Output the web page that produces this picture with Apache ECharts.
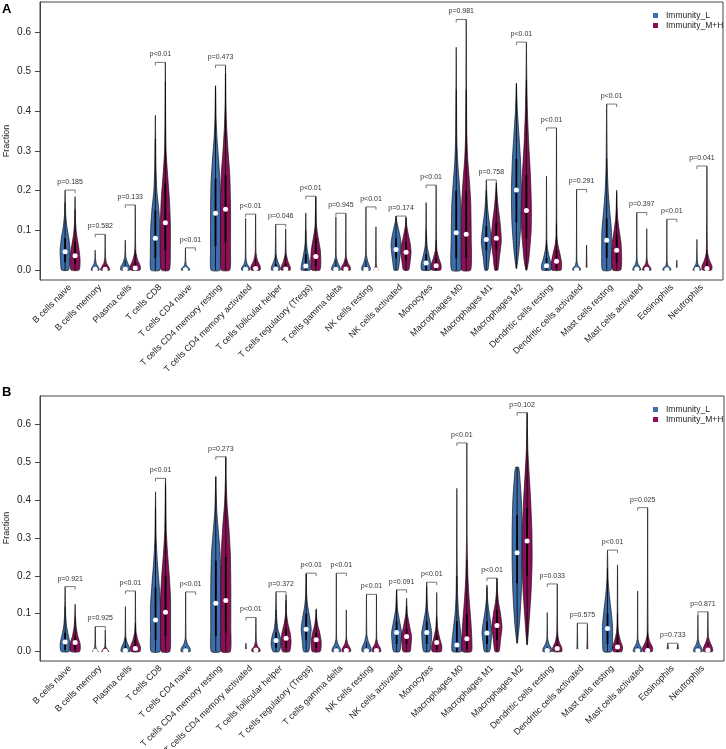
<!DOCTYPE html>
<html><head><meta charset="utf-8">
<script src="https://cdn.jsdelivr.net/npm/echarts@6/dist/echarts.min.js"></script>
<style>html,body{margin:0;padding:0;background:#fff}#c{width:726px;height:749px}</style>
</head><body><div id="c"></div>
<script>
const categories = ['B cells naive','B cells memory','Plasma cells','T cells CD8','T cells CD4 naive','T cells CD4 memory resting','T cells CD4 memory activated','T cells follicular helper','T cells regulatory (Tregs)','T cells gamma delta','NK cells resting','NK cells activated','Monocytes','Macrophages M0','Macrophages M1','Macrophages M2','Dendritic cells resting','Dendritic cells activated','Mast cells resting','Mast cells activated','Eosinophils','Neutrophils'];
const groups = ['Immunity_L','Immunity_M+H'];
const yTicks = [0,0.1,0.2,0.3,0.4,0.5,0.6];
const xTicks = [0,1,2,3,4,5,6,7,8,9,10,11,12,13,14,15,16,17,18,19,20,21];
const yTitle = 'Fraction';

const pA = ['p=0.185','p=0.582','p=0.133','p<0.01','p<0.01','p=0.473','p<0.01','p=0.046','p<0.01','p=0.945','p<0.01','p=0.174','p<0.01','p=0.981','p=0.758','p<0.01','p<0.01','p=0.291','p<0.01','p=0.397','p<0.01','p=0.041'];
const pB = ['p=0.921','p=0.925','p<0.01','p<0.01','p<0.01','p=0.273','p<0.01','p=0.372','p<0.01','p<0.01','p<0.01','p=0.091','p<0.01','p<0.01','p<0.01','p=0.102','p=0.033','p=0.575','p<0.01','p=0.025','p=0.733','p=0.871'];

// violin profiles: [value, relative half-width]
const violinA_L = [
 [[0,0.7],[0.02,0.9],[0.05,1],[0.08,0.75],[0.11,0.35],[0.14,0.12],[0.2015,0]],
 [[0,0.8],[0.006,0.7],[0.015,0.25],[0.03,0.06],[0.05,0]],
 [[0,0.9],[0.008,0.9],[0.02,0.4],[0.035,0.1],[0.0756,0]],
 [[0,0.9],[0.04,1],[0.1,0.95],[0.15,0.7],[0.2,0.3],[0.26,0.12],[0.39,0]],
 [[0,0.85],[0.005,0.7],[0.012,0.2],[0.025,0.05],[0.056,0]],
 [[0,0.9],[0.05,1],[0.15,1],[0.22,0.9],[0.28,0.6],[0.33,0.3],[0.38,0.12],[0.464,0]],
 [[0,0.8],[0.006,0.8],[0.015,0.3],[0.03,0.08],[0.13,0]],
 [[0,0.85],[0.008,0.85],[0.02,0.45],[0.035,0.12],[0.115,0]],
 [[0,0.9],[0.01,0.9],[0.03,0.6],[0.05,0.3],[0.07,0.12],[0.144,0]],
 [[0,0.85],[0.008,0.8],[0.02,0.35],[0.035,0.08],[0.134,0]],
 [[0,0.85],[0.008,0.8],[0.02,0.4],[0.04,0.08],[0.159,0]],
 [[0,0.4],[0.02,0.65],[0.045,0.9],[0.065,1],[0.085,0.8],[0.105,0.45],[0.122,0.15],[0.136,0]],
 [[0,0.9],[0.015,1],[0.035,0.6],[0.06,0.2],[0.09,0.08],[0.17,0]],
 [[0,0.95],[0.08,1],[0.16,0.9],[0.22,0.6],[0.27,0.3],[0.33,0.12],[0.45,0.05],[0.561,0]],
 [[0,0.3],[0.03,0.6],[0.07,1],[0.11,0.7],[0.15,0.3],[0.19,0.1],[0.227,0]],
 [[0.004,0.05],[0.05,0.5],[0.12,0.9],[0.2,1],[0.28,0.8],[0.34,0.5],[0.4,0.2],[0.44,0.08],[0.47,0]],
 [[0,0.9],[0.012,1],[0.03,0.6],[0.05,0.25],[0.07,0.08],[0.237,0]],
 [[0,0.8],[0.005,0.7],[0.012,0.25],[0.025,0.06],[0.203,0]],
 [[0,0.85],[0.04,1],[0.1,0.95],[0.15,0.6],[0.2,0.3],[0.26,0.12],[0.418,0]],
 [[0,0.8],[0.006,0.7],[0.015,0.25],[0.03,0.06],[0.145,0]],
 [[0,0.8],[0.005,0.7],[0.012,0.2],[0.025,0.05],[0.128,0]],
 [[0,0.8],[0.006,0.6],[0.015,0.2],[0.03,0.06],[0.077,0]]
];
const violinA_H = [
 [[0,0.8],[0.025,1],[0.055,0.75],[0.09,0.3],[0.12,0.1],[0.185,0]],
 [[0,0.9],[0.007,0.75],[0.018,0.25],[0.035,0.06],[0.09,0]],
 [[0,0.95],[0.01,1],[0.025,0.5],[0.045,0.12],[0.08,0.05],[0.164,0]],
 [[0,0.8],[0.05,1],[0.12,1],[0.18,0.8],[0.24,0.45],[0.3,0.15],[0.38,0.06],[0.523,0]],
 [[0,0.2],[0.004,0]],
 [[0,0.85],[0.05,1],[0.16,1],[0.24,0.85],[0.3,0.5],[0.36,0.22],[0.42,0.08],[0.516,0]],
 [[0,0.9],[0.01,0.9],[0.025,0.35],[0.045,0.08],[0.141,0]],
 [[0,0.9],[0.008,0.9],[0.02,0.5],[0.04,0.12],[0.104,0]],
 [[0,0.8],[0.02,1],[0.05,0.9],[0.08,0.5],[0.11,0.15],[0.186,0]],
 [[0,0.9],[0.008,0.85],[0.02,0.35],[0.035,0.08],[0.143,0]],
 [[0,0.5],[0.004,0.3],[0.012,0.08],[0.109,0]],
 [[0,0.5],[0.02,0.8],[0.045,1],[0.065,0.85],[0.09,0.45],[0.11,0.15],[0.133,0]],
 [[0,0.9],[0.012,1],[0.03,0.55],[0.05,0.15],[0.08,0.06],[0.214,0]],
 [[0,0.9],[0.08,1],[0.17,0.9],[0.23,0.6],[0.28,0.3],[0.34,0.12],[0.48,0.05],[0.631,0]],
 [[0,0.3],[0.03,0.6],[0.075,1],[0.12,0.75],[0.16,0.35],[0.2,0.1],[0.22,0]],
 [[0,0.1],[0.03,0.5],[0.1,0.95],[0.16,1],[0.24,0.8],[0.32,0.45],[0.4,0.2],[0.48,0.08],[0.574,0]],
 [[0,0.9],[0.02,1],[0.04,0.7],[0.065,0.25],[0.09,0.08],[0.358,0]],
 [[0,0.3],[0.005,0.1],[0.063,0]],
 [[0,0.8],[0.03,1],[0.07,0.85],[0.1,0.5],[0.13,0.2],[0.16,0.08],[0.2015,0]],
 [[0,0.85],[0.006,0.75],[0.015,0.25],[0.03,0.06],[0.104,0]],
 [[0,0.2],[0.004,0.08],[0.025,0]],
 [[0,0.9],[0.01,1],[0.025,0.5],[0.045,0.12],[0.262,0]]
];
const violinB_L = [
 [[0,0.8],[0.02,1],[0.045,0.6],[0.07,0.25],[0.1,0.1],[0.1715,0]],
 [[0,0.6],[0.004,0.4],[0.012,0.1],[0.066,0]],
 [[0,0.85],[0.01,0.8],[0.025,0.3],[0.04,0.08],[0.119,0]],
 [[0,0.9],[0.05,1],[0.12,1],[0.18,0.7],[0.24,0.35],[0.3,0.12],[0.422,0]],
 [[0,0.9],[0.008,0.9],[0.02,0.35],[0.035,0.08],[0.1575,0]],
 [[0,0.9],[0.06,1],[0.18,1],[0.26,0.85],[0.32,0.5],[0.37,0.2],[0.42,0.08],[0.462,0]],
 [[0,0.1],[0.022,0]],
 [[0,0.6],[0.02,1],[0.04,0.8],[0.06,0.35],[0.09,0.12],[0.158,0]],
 [[0,0.5],[0.03,0.8],[0.06,1],[0.09,0.7],[0.12,0.3],[0.15,0.1],[0.207,0]],
 [[0,0.85],[0.008,0.8],[0.02,0.3],[0.035,0.06],[0.207,0]],
 [[0,0.85],[0.01,0.9],[0.025,0.4],[0.045,0.08],[0.151,0]],
 [[0,0.6],[0.025,0.9],[0.05,1],[0.08,0.6],[0.11,0.2],[0.14,0.08],[0.163,0]],
 [[0,0.6],[0.025,0.9],[0.05,1],[0.08,0.6],[0.11,0.2],[0.14,0.08],[0.183,0]],
 [[0,0.9],[0.02,1],[0.06,0.7],[0.1,0.35],[0.15,0.15],[0.25,0.06],[0.431,0]],
 [[0,0.5],[0.025,0.8],[0.05,1],[0.08,0.7],[0.11,0.35],[0.14,0.1],[0.176,0]],
 [[0.022,0.05],[0.08,0.5],[0.16,0.85],[0.24,1],[0.32,1],[0.4,0.85],[0.45,0.6],[0.4865,0.3]],
 [[0,0.85],[0.008,0.85],[0.02,0.35],[0.035,0.08],[0.103,0]],
 [[0,0.3],[0.004,0.1],[0.075,0]],
 [[0,0.8],[0.03,1],[0.07,1],[0.11,0.7],[0.15,0.35],[0.19,0.12],[0.268,0]],
 [[0,0.85],[0.008,0.8],[0.02,0.3],[0.035,0.06],[0.16,0]],
 [[0,0.15],[0.022,0]],
 [[0,0.85],[0.008,0.8],[0.02,0.3],[0.035,0.07],[0.097,0]]
];
const violinB_H = [
 [[0,0.9],[0.02,1],[0.04,0.55],[0.065,0.2],[0.09,0.08],[0.125,0]],
 [[0,0.7],[0.005,0.5],[0.012,0.1],[0.057,0]],
 [[0,0.9],[0.012,1],[0.03,0.5],[0.05,0.15],[0.08,0.05],[0.16,0]],
 [[0,0.85],[0.06,1],[0.14,1],[0.2,0.75],[0.26,0.4],[0.32,0.15],[0.4575,0]],
 [[0,0.15],[0.002,0]],
 [[0,0.9],[0.06,1],[0.18,1],[0.26,0.9],[0.33,0.6],[0.39,0.25],[0.45,0.08],[0.5145,0]],
 [[0,0.8],[0.006,0.8],[0.015,0.3],[0.03,0.08],[0.09,0]],
 [[0,0.7],[0.025,1],[0.05,0.8],[0.075,0.35],[0.1,0.1],[0.15,0]],
 [[0,0.8],[0.025,1],[0.05,0.7],[0.07,0.3],[0.09,0.1],[0.113,0]],
 [[0,0.85],[0.008,0.8],[0.02,0.3],[0.035,0.06],[0.11,0]],
 [[0,0.85],[0.008,0.8],[0.02,0.3],[0.035,0.06],[0.151,0]],
 [[0,0.7],[0.02,0.9],[0.04,1],[0.07,0.55],[0.1,0.15],[0.141,0]],
 [[0,0.9],[0.015,1],[0.035,0.6],[0.06,0.2],[0.09,0.06],[0.156,0]],
 [[0,0.9],[0.03,1],[0.08,0.8],[0.14,0.45],[0.2,0.2],[0.3,0.06],[0.551,0]],
 [[0,0.4],[0.03,0.7],[0.065,1],[0.1,0.7],[0.13,0.3],[0.16,0.1],[0.194,0]],
 [[0.018,0.05],[0.08,0.4],[0.16,0.8],[0.24,1],[0.32,0.95],[0.4,0.7],[0.47,0.4],[0.53,0.15],[0.59,0.06],[0.631,0]],
 [[0,0.9],[0.01,0.9],[0.025,0.4],[0.045,0.1],[0.1786,0]],
 [[0,0.3],[0.004,0.1],[0.072,0]],
 [[0,0.85],[0.012,1],[0.03,0.55],[0.05,0.2],[0.08,0.08],[0.229,0]],
 [[0,0.9],[0.01,1],[0.025,0.45],[0.045,0.1],[0.38,0]],
 [[0,0.15],[0.02,0]],
 [[0,0.9],[0.01,0.9],[0.025,0.4],[0.04,0.1],[0.105,0]]
];

const medA_L = [0.046,0.002,0.003,0.080,0.001,0.143,0.002,0.003,0.010,0.002,0.002,0.052,0.018,0.094,0.077,0.2015,0.011,0.001,0.075,0.002,0.001,0.002];
const medA_H = [0.036,0.002,0.005,0.119,0.0,0.153,0.004,0.003,0.034,0.003,0.001,0.045,0.011,0.090,0.080,0.150,0.022,0.0,0.050,0.002,0.0,0.004];
const medB_L = [0.025,0.001,0.003,0.0836,0.002,0.1277,0.0,0.029,0.059,0.002,0.002,0.050,0.050,0.017,0.049,0.261,0.003,0.0,0.061,0.002,0.0,0.002];
const medB_H = [0.024,0.001,0.008,0.104,0.0,0.1346,0.004,0.035,0.031,0.003,0.003,0.040,0.024,0.034,0.0686,0.292,0.008,0.0,0.012,0.003,0.0,0.004];

// interquartile boxes [q1, q3]
const boxA_L = [[0.02,0.08],[0,0.003],[0,0.01],[0.03,0.15],[0,0],[0.06,0.23],[0,0.005],[0,0.015],[0,0.04],[0,0.01],[0,0.01],[0.03,0.08],[0,0.04],[0.03,0.2],[0.05,0.11],[0.12,0.28],[0,0.03],[0,0],[0.03,0.13],[0,0.003],[0,0],[0,0.005]];
const boxA_H = [[0.015,0.07],[0,0.005],[0,0.02],[0.05,0.22],[0,0],[0.07,0.24],[0,0.012],[0,0.015],[0.01,0.08],[0,0.01],[0,0],[0.025,0.07],[0,0.03],[0.03,0.2],[0.05,0.12],[0.08,0.24],[0.005,0.05],[0,0],[0.02,0.09],[0,0.003],[0,0],[0,0.02]];
const boxB_L = [[0.005,0.05],[0,0],[0,0.015],[0.03,0.17],[0,0.005],[0.04,0.24],[0,0],[0.01,0.05],[0.03,0.1],[0,0.005],[0,0.01],[0.02,0.08],[0.02,0.08],[0,0.08],[0.02,0.08],[0.18,0.36],[0,0.005],[0,0],[0.02,0.1],[0,0.005],[0,0],[0,0.005]];
const boxB_H = [[0.005,0.04],[0,0],[0,0.03],[0.04,0.2],[0,0],[0.05,0.25],[0,0.005],[0.01,0.06],[0.01,0.05],[0,0.005],[0,0.005],[0.02,0.06],[0.005,0.04],[0.005,0.1],[0.03,0.11],[0.2,0.38],[0,0.02],[0,0],[0,0.04],[0,0.02],[0,0],[0,0.01]];

const COLORS = ['#3D6FAD','#8C0F57'];
const FONT = 'Liberation Sans, Arial, Helvetica, sans-serif';
const OFF = 0.166, HW = 0.166;

function violinSeries(k, profs, boxes, gi) {
  const off = gi === 0 ? -OFF : OFF;
  return {
    type: 'custom', name: groups[gi], xAxisIndex: k, yAxisIndex: k,
    itemStyle: { color: COLORS[gi] },
    data: categories.map((c, i) => [i, profs[i][profs[i].length - 1][0]]),
    renderItem: function (params, api) {
      const i = params.dataIndex;
      const prof = profs[i];
      const cx = i + off;
      const pts = [];
      for (const [v, w] of prof) pts.push(api.coord([cx + w * HW, v]));
      for (let j = prof.length - 1; j >= 0; j--) {
        const [v, w] = prof[j];
        if (j === prof.length - 1 && w === 0) continue;
        pts.push(api.coord([cx - w * HW, v]));
      }
      const children = [{
        type: 'polygon', shape: { points: pts, smooth: 0.2 },
        style: { fill: COLORS[gi], stroke: '#151515', lineWidth: 0.7 }
      }];
      const [q1, q3] = boxes[i];
      const vmin = prof[0][0], vmax = prof[prof.length - 1][0];
      if (q3 > q1) {
        const wTop = Math.min(vmax, q3 + 1.5 * (q3 - q1));
        const a = api.coord([cx, vmin]), b = api.coord([cx, wTop]);
        children.push({ type: 'line', shape: { x1: a[0], y1: a[1], x2: b[0], y2: b[1] }, style: { stroke: '#000', lineWidth: 0.8 } });
        const c = api.coord([cx, q1]), d = api.coord([cx, q3]);
        children.push({ type: 'line', shape: { x1: c[0], y1: c[1], x2: d[0], y2: d[1] }, style: { stroke: '#000', lineWidth: 1.8 } });
      }
      return { type: 'group', children };
    },
    z: 2
  };
}
function medianSeries(k, meds, gi) {
  const off = gi === 0 ? -OFF : OFF;
  return {
    type: 'scatter', xAxisIndex: k, yAxisIndex: k, symbol: 'circle', symbolSize: 5,
    itemStyle: { color: '#ffffff', opacity: 1 }, silent: true, z: 5,
    data: meds.map((m, i) => [i + off, m])
  };
}
function bracketSeries(k, profL, profH, pv) {
  return {
    type: 'custom', xAxisIndex: k, yAxisIndex: k, z: 4, silent: true,
    data: categories.map((c, i) => [i, 0]),
    renderItem: function (params, api) {
      const i = params.dataIndex;
      const mL = profL[i][profL[i].length - 1][0];
      const mH = profH[i][profH[i].length - 1][0];
      const top = Math.max(mL, mH);
      const a = api.coord([i - OFF, top]), b = api.coord([i + OFF, top]);
      const aL = api.coord([i - OFF, mL]), bH = api.coord([i + OFF, mH]);
      const st = { stroke: '#555', lineWidth: 0.8 };
      const ch = [
        { type: 'line', shape: { x1: a[0], y1: a[1], x2: b[0], y2: b[1] }, style: st },
        { type: 'line', shape: { x1: a[0], y1: a[1], x2: a[0], y2: Math.min(aL[1], a[1] + 3) }, style: st },
        { type: 'line', shape: { x1: b[0], y1: b[1], x2: b[0], y2: Math.min(bH[1], b[1] + 3) }, style: st },
        { type: 'text', style: { text: pv[i], x: (a[0] + b[0]) / 2, y: a[1] - 8, textAlign: 'center', textVerticalAlign: 'middle', fontSize: 7, fill: '#333', fontFamily: FONT } }
      ];
      return { type: 'group', children: ch };
    }
  };
}
function xAxisDef(k) {
  return {
    type: 'value', gridIndex: k, min: -1, max: 21.7, interval: 1,
    axisLine: { show: false, onZero: false }, axisTick: { show: false }, splitLine: { show: false },
    axisLabel: {
      customValues: xTicks, rotate: 45, margin: 6, fontSize: 9, color: '#222', fontFamily: FONT,
      formatter: v => (Number.isInteger(v) && v >= 0 && v < categories.length) ? categories[v] : ''
    }
  };
}
function yAxisDef(k) {
  return {
    type: 'value', gridIndex: k, min: -0.025, max: 0.675, position: 'left',
    axisLine: { show: true, onZero: false, lineStyle: { color: '#444' } },
    axisTick: { show: true, length: 5, customValues: yTicks, lineStyle: { color: '#444' } },
    splitLine: { show: false },
    axisLabel: { customValues: yTicks, margin: 9, fontSize: 10, color: '#222', fontFamily: FONT, formatter: v => v.toFixed(1) }
  };
}

const chart = echarts.init(document.getElementById('c'), null, { renderer: 'canvas' });
chart.setOption({
  animation: false,
  backgroundColor: '#fff',
  grid: [
    { left: 40, top: 2, width: 683, height: 278, show: true, borderColor: '#444', borderWidth: 1, containLabel: false, outerBoundsMode: 'none' },
    { left: 40, top: 396, width: 684, height: 265, show: true, borderColor: '#444', borderWidth: 1, containLabel: false, outerBoundsMode: 'none' }
  ],
  xAxis: [xAxisDef(0), xAxisDef(1)],
  yAxis: [yAxisDef(0), yAxisDef(1)],
  legend: [
    { left: 648, top: 6, orient: 'vertical', itemWidth: 5, itemHeight: 5, itemGap: 1, icon: 'rect',
      textStyle: { fontSize: 8.5, color: '#222', fontFamily: FONT, padding: [0, 0, 0, 3] }, data: groups, selectedMode: false },
    { left: 648, top: 400, orient: 'vertical', itemWidth: 5, itemHeight: 5, itemGap: 1, icon: 'rect',
      textStyle: { fontSize: 8.5, color: '#222', fontFamily: FONT, padding: [0, 0, 0, 3] }, data: groups, selectedMode: false }
  ],
  graphic: [
    { type: 'text', left: 2, top: 3, style: { text: 'A', fontSize: 13, fontWeight: 'bold', fill: '#000', fontFamily: FONT } },
    { type: 'text', left: 2, top: 386, style: { text: 'B', fontSize: 13, fontWeight: 'bold', fill: '#000', fontFamily: FONT } },
    { type: 'text', x: 7, y: 141, rotation: Math.PI / 2, style: { text: yTitle, fontSize: 9, fill: '#222', fontFamily: FONT, textAlign: 'center', textVerticalAlign: 'middle' } },
    { type: 'text', x: 7, y: 528, rotation: Math.PI / 2, style: { text: yTitle, fontSize: 9, fill: '#222', fontFamily: FONT, textAlign: 'center', textVerticalAlign: 'middle' } }
  ],
  series: [
    violinSeries(0, violinA_L, boxA_L, 0), violinSeries(0, violinA_H, boxA_H, 1),
    medianSeries(0, medA_L, 0), medianSeries(0, medA_H, 1),
    bracketSeries(0, violinA_L, violinA_H, pA),
    violinSeries(1, violinB_L, boxB_L, 0), violinSeries(1, violinB_H, boxB_H, 1),
    medianSeries(1, medB_L, 0), medianSeries(1, medB_H, 1),
    bracketSeries(1, violinB_L, violinB_H, pB)
  ]
});
</script></body></html>
